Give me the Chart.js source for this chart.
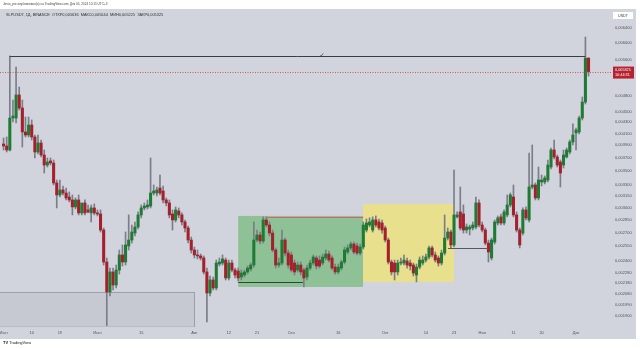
<!DOCTYPE html>
<html>
<head>
<meta charset="utf-8">
<script src="https://cdn.jsdelivr.net/npm/chart.js@4.4.1/dist/chart.umd.min.js"></script>
<style>
  html, body { margin: 0; padding: 0; background: #fff; }
  #wrap { position: relative; width: 640px; height: 349px; overflow: hidden; }
  canvas { position: absolute; left: 0; top: 0; }
  .t { position: absolute; white-space: nowrap; font-family: "Liberation Sans", Arial, sans-serif; line-height: 1; }
</style>
</head>
<body>
<div id="wrap">
  <canvas id="chart" width="640" height="349"></canvas>
  <div class="t" style="left:3px;top:3px;font-size:3.1px;color:#444;">Jenia_pro опубликовал(а) на TradingView.com, Дек 05, 2024 10:15 UTC+3</div>
  <div class="t" style="left:6px;top:13px;font-size:3.9px;color:#333;">SLPUSDT, 1Д, BINANCE &nbsp;ОТКР0,005636 &nbsp;МАКС0,005644 &nbsp;МИН0,005225 &nbsp;ЗАКР0,005325</div>
  <div class="t" style="left:3px;top:341px;font-size:4px;color:#222;"><b>TV</b> TradingView</div>
</div>
<script>
// SLPUSDT daily candles, Jun 01 2024 .. Dec 05 2024
const open = [
  .003923,.003890,.003825,.004377,.004377,.004824,.004567,.004127,.004075,.004250,
  .004041,.003793,.003940,.003745,.003590,.003652,.003621,.003328,.003164,.003231,
  .003190,.003137,.003098,.003008,.003098,.002933,.003059,.002970,.002933,.002995,
  .002933,.002920,.002729,.002384,.002101,.002286,.002164,.002305,.002456,.002384,
  .002551,.002616,.002694,.002764,.002908,.002995,.003008,.003020,.003190,.003190,
  .003258,.003217,.003098,.003059,.002920,.002847,.002957,.002908,.002823,.002752,
  .002616,.002508,.002456,.002446,.002425,.002286,.002092,.002210,.002137,.002364,
  .002374,.002404,.002229,.002374,.002305,.002295,.002238,.002257,.002286,.002315,
  .002354,.002616,.002672,.002605,.002847,.002787,.002694,.002508,.002354,.002374,
  .002616,.002476,.002456,.002374,.002305,.002354,.002305,.002238,.002324,.002374,
  .002425,.002404,.002374,.002425,.002466,.002425,.002334,.002286,.002324,.002384,
  .002487,.002530,.002572,.002551,.002476,.002540,.002729,.002787,.002729,.002847,
  .002823,.002811,.002752,.002616,.002384,.002374,.002286,.002374,.002374,.002394,
  .002374,.002354,.002257,.002334,.002374,.002404,.002435,.002530,.002456,.002425,
  .002374,.002476,.002638,.002706,.002562,.002884,.002945,.002920,.002729,.002740,
  .002752,.002764,.003059,.002787,.002729,.002583,.002425,.002594,.002811,.002884,
  .002811,.002908,.003033,.003137,.002908,.002729,.002694,.002970,.002847,.003272,
  .003300,.003124,.003342,.003342,.003370,.003560,.003825,.003714,.003636,.003590,
  .003714,.003793,.003957,.004110,.004127,.004377,.004683,.005636
];
const high = [
  .004024,.004041,.005687,.004723,.005429,.004990,.004723,.004396,.004396,.004341,
  .004075,.004075,.003990,.003825,.003698,.003698,.003667,.003370,.003370,.003286,
  .003258,.003204,.003164,.003124,.003164,.003033,.003098,.003033,.003033,.003046,
  .002970,.002970,.002752,.002425,.002324,.002324,.002354,.002508,.002562,.002706,
  .002908,.002787,.002823,.002945,.003033,.003059,.003098,.003698,.003300,.003272,
  .003442,.003286,.003124,.003098,.002970,.003008,.002995,.002933,.002847,.002775,
  .002649,.002540,.002508,.002466,.002446,.002324,.002247,.002238,.002404,.002425,
  .002456,.002425,.002404,.002404,.002324,.002324,.002305,.002305,.002344,.002374,
  .002823,.002729,.002706,.002884,.002884,.002823,.002729,.002530,.002425,.002729,
  .002638,.002508,.002487,.002404,.002384,.002384,.002324,.002354,.002404,.002456,
  .002446,.002446,.002466,.002508,.002497,.002446,.002364,.002364,.002404,.002540,
  .002562,.002594,.002594,.002583,.002572,.002823,.002859,.002872,.002884,.002896,
  .002859,.002847,.002775,.002638,.002404,.002404,.002404,.002425,.002456,.002425,
  .002404,.002374,.002364,.002435,.002446,.002466,.002551,.002551,.002487,.002446,
  .002508,.002908,.002752,.002729,.003515,.002945,.003272,.003033,.002799,.002787,
  .002823,.003137,.003098,.002823,.002752,.002616,.002638,.002847,.002896,.002920,
  .002970,.003164,.003190,.003300,.002945,.002752,.002995,.003008,.003777,.003906,
  .003328,.003560,.003442,.003428,.003667,.003857,.003990,.003745,.003667,.003825,
  .003857,.003990,.004269,.004197,.004414,.004783,.006161,.005644
];
const low = [
  .003825,.003793,.003809,.004305,.004287,.004528,.003873,.004041,.004041,.003990,
  .003698,.003761,.003714,.003471,.003560,.003590,.003300,.002995,.003137,.003164,
  .003098,.003072,.002908,.002982,.002908,.002908,.002908,.002933,.002823,.002908,
  .002896,.002706,.002354,.001812,.002066,.002119,.002137,.002266,.002344,.002354,
  .002508,.002583,.002661,.002740,.002872,.002970,.002982,.002995,.003164,.003150,
  .003164,.003059,.003020,.002872,.002729,.002823,.002872,.002787,.002706,.002583,
  .002476,.002425,.002415,.002404,.002266,.001851,.002066,.002119,.002119,.002344,
  .002354,.002210,.002210,.002286,.002229,.002201,.002210,.002238,.002266,.002295,
  .002334,.002594,.002572,.002583,.002764,.002661,.002487,.002324,.002334,.002354,
  .002446,.002324,.002286,.002257,.002286,.002257,.002146,.002210,.002305,.002354,
  .002315,.002324,.002354,.002404,.002384,.002305,.002266,.002266,.002305,.002364,
  .002466,.002508,.002466,.002456,.002456,.002519,.002706,.002764,.002706,.002764,
  .002729,.002694,.002594,.002364,.002257,.002210,.002257,.002354,.002354,.002324,
  .002305,.002247,.002192,.002315,.002354,.002384,.002415,.002435,.002384,.002344,
  .002354,.002456,.002616,.002530,.002540,.002872,.002729,.002694,.002694,.002672,
  .002729,.002740,.002764,.002706,.002562,.002384,.002404,.002572,.002787,.002787,
  .002787,.002884,.003008,.002884,.002706,.002530,.002672,.002847,.002823,.003245,
  .003098,.003098,.003286,.003314,.003342,.003530,.003682,.003560,.003272,.003545,
  .003698,.003761,.003906,.003825,.004092,.004341,.004644,.005225
];
const close = [
  .003890,.003825,.004377,.004414,.004824,.004567,.004127,.004075,.004250,.004041,
  .003793,.003940,.003745,.003590,.003636,.003621,.003328,.003164,.003231,.003190,
  .003124,.003098,.003008,.003098,.002933,.003059,.002933,.002945,.002995,.002933,
  .002920,.002729,.002384,.002101,.002286,.002164,.002305,.002456,.002384,.002562,
  .002616,.002706,.002764,.002908,.002995,.003020,.003033,.003190,.003217,.003231,
  .003190,.003098,.003059,.002908,.002847,.002970,.002908,.002823,.002752,.002616,
  .002508,.002456,.002446,.002425,.002286,.002092,.002210,.002137,.002374,.002384,
  .002415,.002229,.002374,.002305,.002257,.002229,.002276,.002286,.002324,.002354,
  .002616,.002672,.002605,.002847,.002787,.002694,.002508,.002354,.002374,.002616,
  .002476,.002354,.002305,.002286,.002354,.002286,.002229,.002324,.002374,.002435,
  .002344,.002344,.002435,.002466,.002404,.002324,.002286,.002334,.002384,.002508,
  .002530,.002572,.002487,.002476,.002540,.002787,.002811,.002823,.002847,.002787,
  .002752,.002729,.002616,.002384,.002286,.002286,.002374,.002384,.002404,.002354,
  .002344,.002276,.002334,.002404,.002404,.002435,.002530,.002456,.002404,.002374,
  .002476,.002638,.002706,.002562,.002908,.002908,.002752,.002729,.002764,.002764,
  .002787,.003059,.002787,.002729,.002583,.002487,.002616,.002823,.002872,.002811,
  .002945,.003033,.003164,.002908,.002729,.002562,.002970,.002872,.003272,.003300,
  .003124,.003370,.003370,.003399,.003590,.003825,.003714,.003590,.003471,.003745,
  .003825,.003957,.004075,.004162,.004377,.004683,.005636,.005325
];

// price scale labels
const yTicks = [0.0064, 0.006, 0.0056, 0.0048, 0.0045, 0.0043, 0.0041, 0.0039, 0.0037, 0.0035,
  0.0033, 0.00315, 0.003, 0.00285, 0.0027, 0.00255, 0.0024, 0.00228, 0.00218, 0.00208, 0.00199, 0.0019];
// time scale labels
const xTickDates = ['2024-06-01','2024-06-10','2024-06-19','2024-07-01','2024-07-15','2024-08-01','2024-08-12',
  '2024-08-21','2024-09-01','2024-09-16','2024-10-01','2024-10-14','2024-10-23','2024-11-01','2024-11-11',
  '2024-11-20','2024-12-01'];
const xTickText = ['Июн','10','19','Июл','15','Авг','12','21','Сен','16','Окт','14','23','Ноя','11','20','Дек'];

const lastPrice = 0.005325;

// drawings on the chart (slot index / price)
const zones = [
  { from: 75, to: 114.9, hi: 0.002896, lo: 0.002146, fill: 'rgba(76,175,80,0.5)', stroke: null },
  { from: 114.9, to: 144, hi: 0.003046, lo: 0.002192, fill: 'rgba(255,235,59,0.5)', stroke: null },
  { from: -1.5, to: 61.2, hi: 0.002101, lo: 0.001815, fill: 'rgba(120,123,134,0.12)', stroke: 'rgba(120,123,134,0.55)' }
];
const segments = [
  { from: 2, to: 186, price: 0.005687, color: '#3b3d45' },
  { from: 83.9, to: 115, price: 0.002884, color: '#d9626c' },
  { from: 75, to: 95.7, price: 0.002192, color: '#2c4a30' },
  { from: 142.1, to: 154.9, price: 0.00253, color: '#55585f' }
];

const FONT = '"Liberation Sans", Arial, sans-serif';
const SLOTS = 195;
const labels = [];
const day0 = Date.UTC(2024, 5, 1);
for (let i = 0; i < SLOTS; i++) {
  labels.push(new Date(day0 + i * 86400000).toISOString().slice(0, 10));
}

const GREEN = '#1f7a34';
const RED = '#a3202c';
const bodyColors = open.map((o, i) => (close[i] >= o ? GREEN : RED));

const panelPlugin = {
  id: 'panel',
  beforeDraw(chart) {
    const ctx = chart.ctx;
    ctx.save();
    ctx.fillStyle = '#ffffff';
    ctx.fillRect(0, 0, chart.width, chart.height);
    ctx.fillStyle = '#d1d4dc';
    ctx.fillRect(0, 9, 636, 330);
    ctx.restore();
  },
  beforeDatasetsDraw(chart) {
    const { ctx, chartArea: a, scales: { x, y } } = chart;
    ctx.save();
    ctx.beginPath();
    ctx.rect(0, a.top, a.right, a.bottom - a.top + 1);
    ctx.clip();
    zones.forEach(z => {
      const x1 = x.getPixelForValue(z.from), x2 = x.getPixelForValue(z.to);
      const y1 = y.getPixelForValue(z.hi), y2 = y.getPixelForValue(z.lo);
      ctx.fillStyle = z.fill;
      ctx.fillRect(x1, y1, x2 - x1, y2 - y1);
      if (z.stroke) {
        ctx.strokeStyle = z.stroke;
        ctx.lineWidth = 1;
        ctx.strokeRect(x1 + 0.5, y1 + 0.5, x2 - x1 - 1, y2 - y1);
      }
    });
    ctx.restore();
  },
  afterDatasetsDraw(chart) {
    const { ctx, chartArea: a, scales: { x, y } } = chart;
    ctx.save();
    segments.forEach(s => {
      const yy = Math.round(y.getPixelForValue(s.price)) + 0.5;
      ctx.strokeStyle = s.color;
      ctx.lineWidth = 1;
      ctx.beginPath();
      ctx.moveTo(x.getPixelForValue(s.from), yy);
      ctx.lineTo(x.getPixelForValue(s.to), yy);
      ctx.stroke();
    });
    // small mark in the middle of the range line
    ctx.fillStyle = '#2e3038';
    ctx.font = '6px "DejaVu Sans"';
    ctx.textAlign = 'center';
    ctx.textBaseline = 'middle';
    ctx.fillText('✓', x.getPixelForValue(101.8), y.getPixelForValue(0.005687) - 1);
    // last price line
    const py = Math.round(y.getPixelForValue(lastPrice)) + 0.5;
    ctx.strokeStyle = 'rgba(200,60,70,0.8)';
    ctx.setLineDash([1, 1.5]);
    ctx.beginPath();
    ctx.moveTo(0, py);
    ctx.lineTo(a.right, py);
    ctx.stroke();
    ctx.restore();
  },
  afterDraw(chart) {
    const { ctx, scales: { y } } = chart;
    ctx.save();
    // currency box
    ctx.fillStyle = '#ffffff';
    ctx.fillRect(613, 12, 20, 7);
    ctx.fillStyle = '#333';
    ctx.font = '3.6px ' + FONT;
    ctx.textAlign = 'center';
    ctx.textBaseline = 'middle';
    ctx.fillText('USDT', 623, 15.6);
    // last price label
    const py = y.getPixelForValue(lastPrice);
    ctx.fillStyle = '#b5212f';
    ctx.fillRect(613, py - 5, 21, 12);
    ctx.fillStyle = '#ffffff';
    ctx.font = '3.8px ' + FONT;
    ctx.textAlign = 'left';
    ctx.fillText('0,005325', 615, py - 1.6);
    ctx.fillText('10:44:31', 615, py + 3.2);
    ctx.restore();
  }
};

new Chart(document.getElementById('chart').getContext('2d'), {
  type: 'bar',
  data: {
    labels: labels,
    datasets: [
      {
        label: 'wick',
        data: low.map((l, i) => [l, high[i]]),
        backgroundColor: '#7b7e88',
        barThickness: 1,
        grouped: false,
        order: 2
      },
      {
        label: 'body',
        data: open.map((o, i) => [o, close[i]]),
        backgroundColor: bodyColors,
        barThickness: 2.4,
        minBarLength: 1,
        grouped: false,
        order: 1
      }
    ]
  },
  options: {
    responsive: false,
    animation: false,
    events: [],
    layout: { padding: { left: 2, right: 0, top: 9, bottom: 11 } },
    plugins: { legend: { display: false }, tooltip: { enabled: false } },
    scales: {
      x: {
        offset: true,
        grid: { display: false, drawTicks: false },
        border: { display: false },
        ticks: {
          autoSkip: false,
          maxRotation: 0,
          minRotation: 0,
          padding: 4,
          color: '#50535c',
          font: { size: 4, family: FONT },
          callback: function (val) {
            const k = xTickDates.indexOf(this.getLabelForValue(val));
            return k < 0 ? '' : xTickText[k];
          }
        },
        afterFit(s) {
          s.height = 12;
          s.paddingLeft = 0;
          s.paddingRight = 0;
        }
      },
      y: {
        type: 'logarithmic',
        position: 'right',
        min: 0.00182,
        max: 0.006934,
        bounds: 'data',
        grid: { display: false, drawTicks: false },
        border: { display: false },
        ticks: {
          autoSkip: false,
          padding: 3,
          color: '#50535c',
          font: { size: 4, family: FONT },
          callback: v => v.toFixed(6).replace('.', ',')
        },
        afterBuildTicks(s) { s.ticks = yTicks.map(v => ({ value: v })); },
        afterFit(s) {
          s.width = 28;
          s.paddingTop = 0;
          s.paddingBottom = 0;
        }
      }
    }
  },
  plugins: [panelPlugin]
});
</script>
</body>
</html>
